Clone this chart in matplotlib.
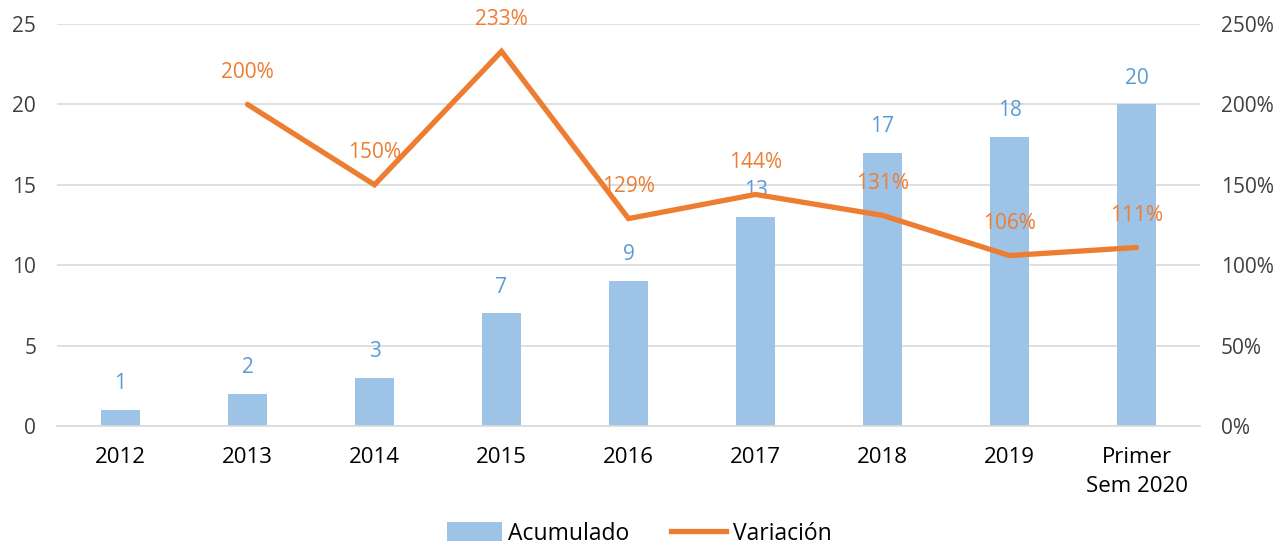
import matplotlib
matplotlib.use("Agg")
import matplotlib.pyplot as plt
import numpy as np
from matplotlib.lines import Line2D
from matplotlib.patches import Patch

categories = ["2012", "2013", "2014", "2015", "2016", "2017", "2018", "2019", "Primer\nSem 2020"]
acumulado = [1, 2, 3, 7, 9, 13, 17, 18, 20]
variacion_cats = ["2013", "2014", "2015", "2016", "2017", "2018", "2019", "Primer\nSem 2020"]
variacion = [200, 150, 233, 129, 144, 131, 106, 111]

plt.rcParams['font.family'] = ['Open Sans', 'DejaVu Sans']
BAR = "#9DC3E6"
BAR_TXT = "#5B9BD5"
LINE = "#ED7D31"
GRID = "#D9D9D9"
TXT = "#404040"

fig = plt.figure(figsize=(12.78, 5.5), dpi=100)
ax = fig.add_axes([57/1278, 1-426/550, (1200-57)/1278, (426-24)/550])
ax2 = ax.twinx()

x = np.arange(len(categories))
ax.bar(x, acumulado, width=0.31, color=BAR, zorder=2)
ax.set_xlim(-0.5, len(categories)-0.5)
ax.set_ylim(0, 25)
ax.set_yticks(range(0, 26, 5))
ax.grid(axis='y', color=GRID, linewidth=1.2, zorder=0)
ax.set_axisbelow(True)
for s in ["top", "right", "left"]:
    ax.spines[s].set_visible(False)
    ax2.spines[s].set_visible(False)
ax.spines["bottom"].set_color(GRID)
ax.spines["bottom"].set_linewidth(1.2)
ax2.spines["bottom"].set_visible(False)
ax.set_xticks(x)
ax.set_xticklabels(categories, fontsize=16, color="black", linespacing=1.5)
ax.tick_params(axis='x', length=0, pad=15)
ax.tick_params(axis='y', length=0, pad=15, labelsize=15, labelcolor=TXT)

for xi, v in zip(x, acumulado):
    ax.annotate(str(v), (xi, v), xytext=(0, 19), textcoords="offset points",
                ha="center", va="center", color=BAR_TXT, fontsize=15)

vx = [categories.index(c) for c in variacion_cats]
ax2.plot(vx, variacion, color=LINE, linewidth=3.8, solid_capstyle="round", solid_joinstyle="miter", zorder=3)
ax2.set_ylim(0, 250)
ax2.set_yticks(range(0, 251, 50))
ax2.set_yticklabels([f"{t}%" for t in range(0, 251, 50)])
ax2.tick_params(axis='y', length=0, pad=15, labelsize=15, labelcolor=TXT)
for xi, v in zip(vx, variacion):
    ax2.annotate(f"{v}%", (xi, v), xytext=(0, 23), textcoords="offset points",
                 ha="center", va="center", color=LINE, fontsize=15, zorder=4)

handles = [Patch(facecolor=BAR, edgecolor='none'), Line2D([0], [0], color=LINE, linewidth=3.8)]
fig.legend(handles, ["Acumulado", "Variación"], loc="lower center", bbox_to_anchor=(0.5, -0.03),
           ncol=2, frameon=False, fontsize=16.5, handlelength=2.4, handleheight=0.9,
           columnspacing=1.8, handletextpad=0.3, labelcolor="black")

fig.savefig("out.png", dpi=100)
